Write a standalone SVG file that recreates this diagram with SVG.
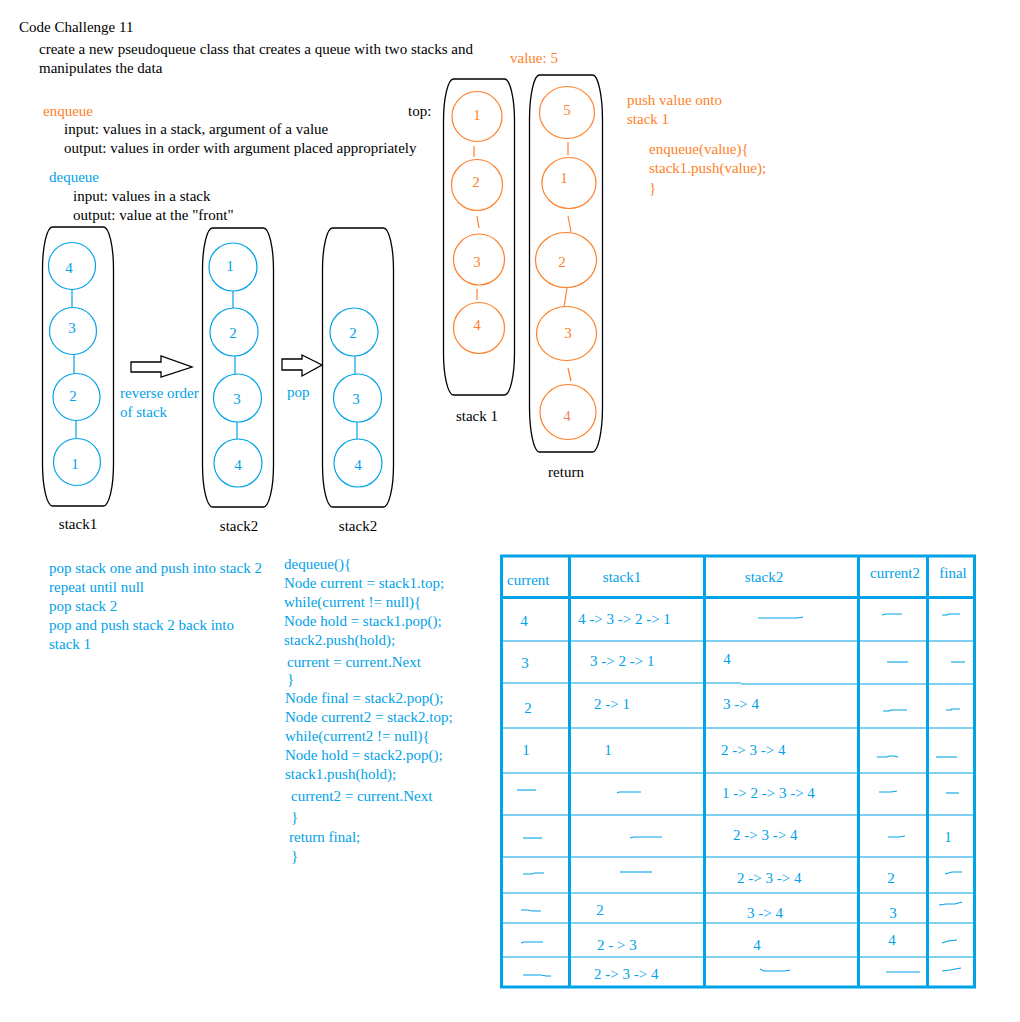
<svg xmlns="http://www.w3.org/2000/svg" width="1020" height="1022" viewBox="0 0 1020 1022">
<style>
text{font-family:"Liberation Serif","Times New Roman",serif;font-size:15px}
.k{fill:#000}
.b{fill:#00A2E8}
.o{fill:#FF7F27}
.m{text-anchor:middle}
.box{fill:none;stroke:#000;stroke-width:1.3}
.cb{fill:none;stroke:#00A2E8;stroke-width:1.2}
.co{fill:none;stroke:#FF7F27;stroke-width:1.2}
.lb{stroke:#00A2E8;stroke-width:1.2;fill:none}
.lo{stroke:#FF7F27;stroke-width:1.2;fill:none}
.arr{fill:#fff;stroke:#000;stroke-width:1.3}
.tk{stroke:#00A2E8;stroke-width:3;fill:none}
.tn{stroke:#00A2E8;stroke-width:1.2;fill:none}
.sq{stroke:#00A2E8;stroke-width:1.1;fill:none}
</style>
<rect width="1020" height="1022" fill="#fff"/>

<g id="header">
<text class="k" x="19" y="32">Code Challenge 11</text>
<text class="k" x="39" y="54">create a new pseudoqueue class that creates a queue with two stacks and</text>
<text class="k" x="39" y="73">manipulates the data</text>
<text class="o" x="43" y="116">enqueue</text>
<text class="k" x="64" y="134">input: values in a stack, argument of a value</text>
<text class="k" x="64" y="153">output: values in order with argument placed appropriately</text>
<text class="b" x="49" y="182">dequeue</text>
<text class="k" x="73" y="201">input: values in a stack</text>
<text class="k" x="73" y="220">output: value at the "front"</text>
</g>

<!-- dequeue stacks -->
<g id="stack1-blue">
<rect class="box" x="42.5" y="227" width="71" height="279" rx="10" ry="42"/>
<circle class="cb" cx="72" cy="266" r="23.5"/>
<circle class="cb" cx="73" cy="331" r="23.5"/>
<circle class="cb" cx="76.5" cy="397" r="23.5"/>
<circle class="cb" cx="77" cy="462" r="23.5"/>
<text class="b m" x="69" y="273">4</text>
<text class="b m" x="72" y="333">3</text>
<text class="b m" x="73" y="401">2</text>
<text class="b m" x="75" y="469">1</text>
<text class="k m" x="78" y="529">stack1</text>
</g>

<g id="stack2-blue">
<rect class="box" x="202.5" y="228" width="71" height="279" rx="10" ry="42"/>
<circle class="cb" cx="233" cy="267" r="24"/>
<circle class="cb" cx="234" cy="332" r="24"/>
<circle class="cb" cx="237.5" cy="398" r="24"/>
<circle class="cb" cx="238" cy="463" r="24"/>
<text class="b m" x="230" y="271">1</text>
<text class="b m" x="233" y="338">2</text>
<text class="b m" x="237" y="404">3</text>
<text class="b m" x="238" y="470">4</text>
<text class="k m" x="239" y="531">stack2</text>
</g>

<g id="stack2b-blue">
<rect class="box" x="322.5" y="228" width="71" height="279" rx="10" ry="42"/>
<circle class="cb" cx="354" cy="332" r="24"/>
<circle class="cb" cx="357.5" cy="398" r="24"/>
<circle class="cb" cx="358" cy="463" r="24"/>
<text class="b m" x="353" y="338">2</text>
<text class="b m" x="356" y="404">3</text>
<text class="b m" x="358" y="470">4</text>
<text class="k m" x="358" y="531">stack2</text>
</g>

<g id="arrow-reverse">
<polygon class="arr" points="131,362 161,362 161,356 192,367 161,377 161,372 131,372"/>
<text class="b" x="120" y="398">reverse order</text>
<text class="b" x="120" y="417">of stack</text>
</g>

<g id="arrow-pop">
<polygon class="arr" points="282,359 302,359 302,355 322,365 302,376 302,370 282,370"/>
<text class="b" x="287" y="397">pop</text>
</g>

<!-- enqueue stacks -->
<g id="stack1-orange">
<rect class="box" x="443.5" y="79" width="71" height="316" rx="10" ry="42"/>
<circle class="co" cx="477" cy="116.5" r="25"/>
<circle class="co" cx="477" cy="185" r="25.5"/>
<circle class="co" cx="479" cy="259.5" r="25.5"/>
<circle class="co" cx="479" cy="328" r="25.5"/>
<text class="o m" x="477" y="120">1</text>
<text class="o m" x="476" y="187">2</text>
<text class="o m" x="477" y="267">3</text>
<text class="o m" x="477" y="330">4</text>
<text class="k m" x="477" y="421">stack 1</text>
</g>

<g id="stack-return">
<rect class="box" x="529.5" y="75" width="73" height="377" rx="10" ry="45"/>
<ellipse class="co" cx="567" cy="112.5" rx="27.5" ry="26"/>
<ellipse class="co" cx="569" cy="183" rx="27" ry="25.5"/>
<ellipse class="co" cx="566" cy="260" rx="30.5" ry="27.5"/>
<ellipse class="co" cx="566.5" cy="333.5" rx="30" ry="27"/>
<ellipse class="co" cx="568" cy="412" rx="28" ry="27.5"/>
<text class="o m" x="567" y="115">5</text>
<text class="o m" x="564" y="183">1</text>
<text class="o m" x="562" y="267">2</text>
<text class="o m" x="568" y="338">3</text>
<text class="m" x="567" y="421" fill="#F5806E">4</text>
<text class="k m" x="566" y="477">return</text>
</g>

<g id="enqueue-notes">
<text class="k" x="408" y="116">top:</text>
<text class="o" x="510" y="63">value: 5</text>
<text class="o" x="627" y="105">push value onto</text>
<text class="o" x="627" y="124">stack 1</text>
<text class="o" x="649" y="154">enqueue(value){</text>
<text class="o" x="649" y="173">stack1.push(value);</text>
<text class="o" x="649" y="193">}</text>
</g>

<g id="connectors">
<line class="lb" x1="72" y1="290" x2="72" y2="307"/>
<line class="lb" x1="74" y1="355" x2="74" y2="373"/>
<line class="lb" x1="76" y1="421" x2="76" y2="438"/>
<line class="lb" x1="233" y1="291" x2="233" y2="308"/>
<line class="lb" x1="235" y1="356" x2="235" y2="374"/>
<line class="lb" x1="237" y1="422" x2="237" y2="439"/>
<line class="lb" x1="355" y1="356" x2="355" y2="374"/>
<line class="lb" x1="357" y1="422" x2="357" y2="439"/>
<line class="lo" x1="474" y1="146" x2="474" y2="157"/>
<line class="lo" x1="477" y1="216" x2="479" y2="228"/>
<line class="lo" x1="477" y1="289" x2="477" y2="300"/>
<line class="lo" x1="568" y1="142" x2="568" y2="155"/>
<line class="lo" x1="568" y1="216" x2="571" y2="232"/>
<line class="lo" x1="567" y1="288" x2="564" y2="307"/>
<line class="lo" x1="568" y1="368" x2="571" y2="381"/>
</g>

<g id="dequeue-notes">
<text class="b" x="49" y="573">pop stack one and push into stack 2</text>
<text class="b" x="49" y="592">repeat until null</text>
<text class="b" x="49" y="611">pop stack 2</text>
<text class="b" x="49" y="630">pop and push stack 2 back into</text>
<text class="b" x="49" y="649">stack 1</text>
</g>

<g id="dequeue-code">
<text class="b" x="284" y="569">dequeue(){</text>
<text class="b" x="284" y="588">Node current = stack1.top;</text>
<text class="b" x="284" y="607">while(current != null){</text>
<text class="b" x="284" y="626">Node hold = stack1.pop();</text>
<text class="b" x="284" y="645">stack2.push(hold);</text>
<text class="b" x="287" y="667">current = current.Next</text>
<text class="b" x="287" y="684">}</text>
<text class="b" x="285" y="703">Node final = stack2.pop();</text>
<text class="b" x="285" y="722">Node current2 = stack2.top;</text>
<text class="b" x="285" y="741">while(current2 != null){</text>
<text class="b" x="285" y="760">Node hold = stack2.pop();</text>
<text class="b" x="285" y="779">stack1.push(hold);</text>
<text class="b" x="291" y="801">current2 = current.Next</text>
<text class="b" x="291" y="822">}</text>
<text class="b" x="289" y="842">return final;</text>
<text class="b" x="291" y="861">}</text>
</g>

<g id="trace-table">
<g class="tn">
<line x1="503" y1="641" x2="973" y2="641"/>
<line x1="503" y1="683" x2="741" y2="683"/>
<line x1="741" y1="684" x2="973" y2="684"/>
<line x1="503" y1="728" x2="973" y2="728"/>
<line x1="503" y1="773" x2="973" y2="773"/>
<line x1="503" y1="815" x2="973" y2="815"/>
<line x1="503" y1="857" x2="973" y2="857"/>
<line x1="503" y1="893" x2="973" y2="893"/>
<line x1="503" y1="923" x2="973" y2="923"/>
<line x1="503" y1="957" x2="973" y2="957"/>
</g>
<g class="tk">
<rect x="501.5" y="556" width="473" height="431"/>
<line x1="501.5" y1="597.5" x2="974.5" y2="597.5"/>
<line x1="569.5" y1="556" x2="569.5" y2="987"/>
<line x1="704.5" y1="556" x2="704.5" y2="987"/>
<line x1="858.5" y1="556" x2="858.5" y2="987"/>
<line x1="927.5" y1="556" x2="927.5" y2="987"/>
</g>
<text class="b" x="507" y="585">current</text>
<text class="b m" x="622" y="582">stack1</text>
<text class="b m" x="764" y="582">stack2</text>
<text class="b m" x="895" y="578">current2</text>
<text class="b m" x="953" y="578">final</text>

<text class="b m" x="524" y="626">4</text>
<text class="b" x="578" y="624">4 -&gt; 3 -&gt; 2 -&gt; 1</text>
<text class="b m" x="525" y="668">3</text>
<text class="b" x="590" y="666">3 -&gt; 2 -&gt; 1</text>
<text class="b m" x="727" y="664">4</text>
<text class="b m" x="528" y="713">2</text>
<text class="b" x="594" y="709">2 -&gt;  1</text>
<text class="b" x="723" y="709">3 -&gt; 4</text>
<text class="b m" x="526" y="755">1</text>
<text class="b m" x="608" y="755">1</text>
<text class="b" x="721" y="755">2 -&gt; 3 -&gt; 4</text>
<text class="b" x="722" y="798">1 -&gt; 2 -&gt; 3 -&gt; 4</text>
<text class="b" x="733" y="840">2 -&gt; 3 -&gt; 4</text>
<text class="b m" x="948" y="842">1</text>
<text class="b" x="737" y="883">2 -&gt; 3 -&gt; 4</text>
<text class="b m" x="891" y="883">2</text>
<text class="b m" x="600" y="915">2</text>
<text class="b" x="747" y="918">3 -&gt; 4</text>
<text class="b m" x="893" y="918">3</text>
<text class="b" x="597" y="950">2 - &gt; 3</text>
<text class="b m" x="757" y="950">4</text>
<text class="b m" x="892" y="945">4</text>
<text class="b" x="594" y="979">2 -&gt; 3 -&gt; 4</text>

<g class="sq">
<path d="M758 618 H797 L803 617"/>
<path d="M882 615 L886 614 H902"/>
<path d="M942 615 H947 L949 614 H960"/>
<path d="M887 662 H908"/>
<path d="M951 662 H965"/>
<path d="M883 711 H889 L891 710 H907"/>
<path d="M946 710 H951 L952 709 H960"/>
<path d="M877 757 H887 L889 756 H894 L898 757"/>
<path d="M936 757 H957"/>
<path d="M517 790 H536"/>
<path d="M617 793 L619 792 H641"/>
<path d="M879 792 H891 L897 791"/>
<path d="M946 793 H959"/>
<path d="M523 838 H542"/>
<path d="M630 838 L634 837 H662"/>
<path d="M888 837 H899 L905 836"/>
<path d="M523 874 H531 L535 873 H544"/>
<path d="M620 872 H652"/>
<path d="M945 874 L952 872 H962 L962 872"/>
<path d="M521 910 H528 L532 911 H541"/>
<path d="M939 905 L946 904 H955 L962 902"/>
<path d="M521 943 L524 942 H543"/>
<path d="M942 943 L948 941 L957 940"/>
<path d="M523 975 H541 L546 976 H551"/>
<path d="M760 969 L764 971 H785 L790 970"/>
<path d="M886 972 H920"/>
<path d="M942 971 L950 970 L961 968"/>
</g>
</g>
</svg>
